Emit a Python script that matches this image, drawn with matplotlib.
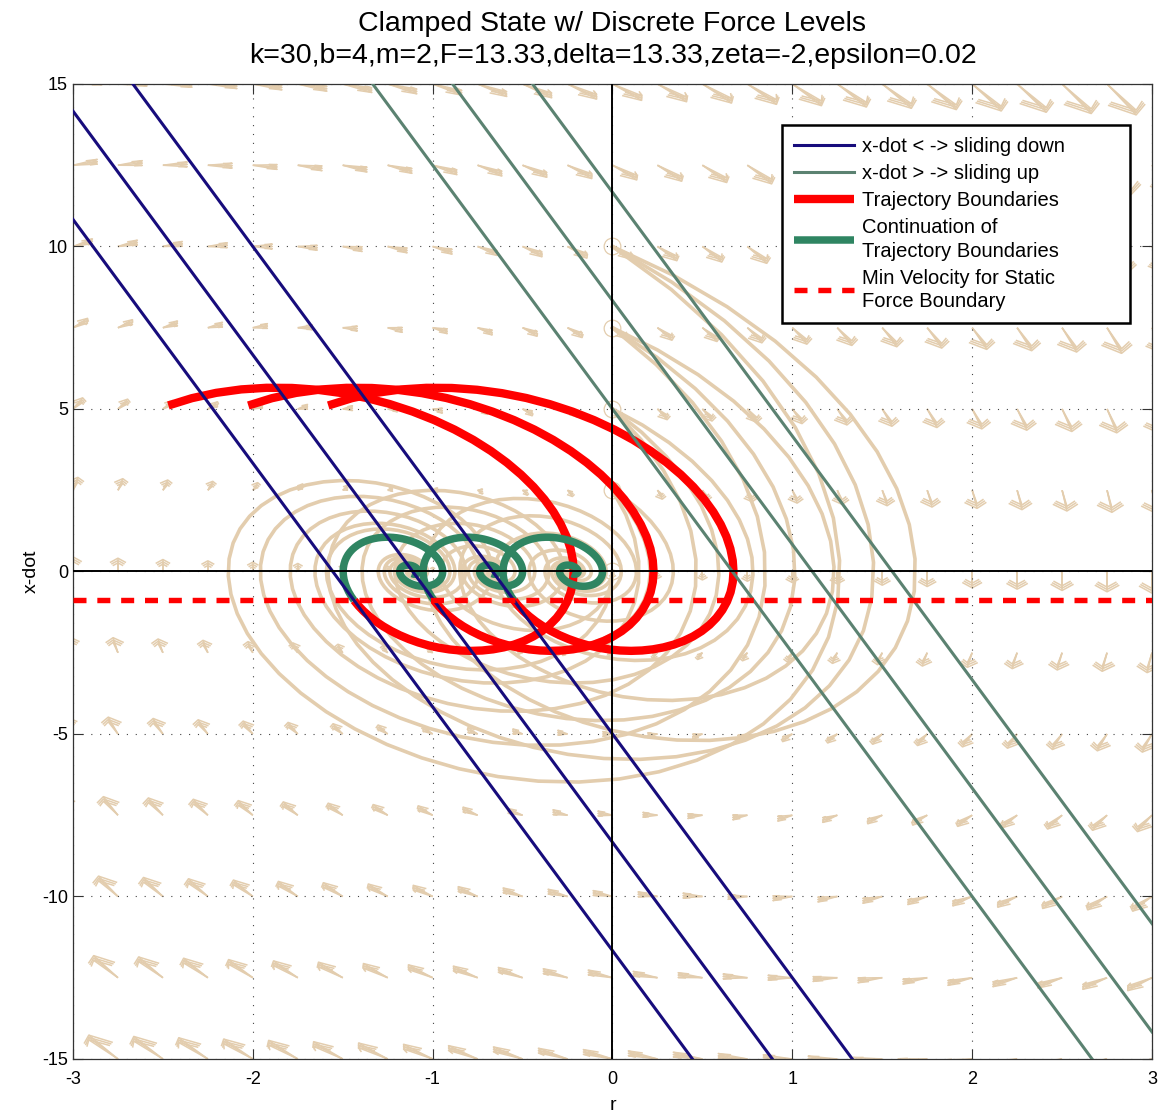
import matplotlib.pyplot as plt
import numpy as np
from matplotlib.collections import LineCollection

plt.rcParams['font.family'] = ['Liberation Sans', 'DejaVu Sans']
plt.rcParams['axes.unicode_minus'] = False

# model parameters (from the title)
K, B, M = 30.0, 4.0, 2.0
# discrete clamp force levels -> equilibria at F/K
F_LEVELS = [-6.667, -20.0, -33.333]

# boundary lines k*r + b*xdot = const, given as x-dot at r = 0
DOWN_INTERCEPTS = [-5.0, -8.333, -11.667]
UP_INTERCEPTS = [5.0, 8.333, 11.667]
V_MIN = -0.889  # min velocity for static force boundary

# tan trajectories start at r = 0 with these x-dot values
START_VEL = [0.0, 2.5, 5.0, 7.5, 10.0]
T_TAN = 8.0
T_BACK = 1.30   # red boundary, integrated backwards
T_FWD = 3.2     # green continuation, integrated forwards

# quiver grid
GRID_R = np.arange(-3.0, 3.001, 0.25)
GRID_V = np.arange(-15.0, 15.001, 2.5)
ARROW_SCALE = 0.0108

TAN = '#e3cdae'
BLUE = '#170c7c'
GREY_GREEN = '#5b8271'
GREEN = '#2f8562'
RED = '#ff0000'


def accel(r, v, f):
    return (-K * r - B * v + f) / M


def integrate(r0, v0, f, t_end, dt=0.02):
    n = int(round(abs(t_end) / dt))
    h = dt * np.sign(t_end)
    r, v = r0, v0
    rs, vs = [r], [v]
    for _ in range(n):
        k1r, k1v = v, accel(r, v, f)
        k2r, k2v = v + 0.5 * h * k1v, accel(r + 0.5 * h * k1r, v + 0.5 * h * k1v, f)
        k3r, k3v = v + 0.5 * h * k2v, accel(r + 0.5 * h * k2r, v + 0.5 * h * k2v, f)
        k4r, k4v = v + h * k3v, accel(r + h * k3r, v + h * k3v, f)
        r = r + h / 6 * (k1r + 2 * k2r + 2 * k3r + k4r)
        v = v + h / 6 * (k1v + 2 * k2v + 2 * k3v + k4v)
        rs.append(r)
        vs.append(v)
    return np.array(rs), np.array(vs)


def matlab_arrows(x, y, u, v, alpha=0.33, beta=0.33):
    # shaft + open head, head built in data units like MATLAB's quiver
    segs = []
    for xi, yi, ui, vi in zip(x, y, u, v):
        segs.append([(xi, yi), (xi + ui, yi + vi)])
        segs.append([(xi + ui - alpha * (ui + beta * vi), yi + vi - alpha * (vi - beta * ui)),
                     (xi + ui, yi + vi),
                     (xi + ui - alpha * (ui - beta * vi), yi + vi - alpha * (vi + beta * ui))])
    return segs


fig = plt.figure(figsize=(11.64, 11.14), dpi=100)
ax = fig.add_axes([0.0627, 0.0494, 0.9270, 0.8752])

# direction field, one set of arrows for each force level
rr, vv = np.meshgrid(GRID_R, GRID_V)
rr, vv = rr.ravel(), vv.ravel()
for f in F_LEVELS:
    segs = matlab_arrows(rr, vv, ARROW_SCALE * vv, ARROW_SCALE * accel(rr, vv, f))
    ax.add_collection(LineCollection(segs, colors=TAN, linewidths=1.1, zorder=1))

# trajectories from r = 0
for v0 in START_VEL:
    for f in F_LEVELS:
        r_t, v_t = integrate(0.0, v0, f, T_TAN, dt=0.035)
        ax.plot(r_t, v_t, color=TAN, lw=2.6, zorder=2)
    ax.plot(0, v0, 'o', ms=12, mfc='none', mec=TAN, mew=0.9, zorder=2)

# trajectory boundaries through the crossing of each sliding-down line with V_MIN
for f, c in zip(F_LEVELS, DOWN_INTERCEPTS):
    r_j = (c - V_MIN) * B / K
    r_b, v_b = integrate(r_j, V_MIN, f, -T_BACK, dt=0.025)
    ax.plot(r_b, v_b, color=RED, lw=6.0, solid_capstyle='butt', zorder=3,
            label='Trajectory Boundaries' if f == F_LEVELS[0] else None)
    r_c, v_c = integrate(r_j, V_MIN, f, T_FWD)
    ax.plot(r_c, v_c, color=GREEN, lw=5.4, solid_capstyle='butt', zorder=4,
            label='Continuation of\nTrajectory Boundaries' if f == F_LEVELS[0] else None)

# sliding lines
r_line = np.array([-3.0, 3.0])
for i, c in enumerate(DOWN_INTERCEPTS):
    ax.plot(r_line, -K / B * r_line + c, color=BLUE, lw=2.2, zorder=5,
            label='x-dot < -> sliding down' if i == 0 else None)
for i, c in enumerate(UP_INTERCEPTS):
    ax.plot(r_line, -K / B * r_line + c, color=GREY_GREEN, lw=2.2, zorder=5,
            label='x-dot > -> sliding up' if i == 0 else None)

ax.plot(r_line, [V_MIN, V_MIN], color=RED, lw=3.9, dashes=(2.4, 2.0), zorder=6,
        label='Min Velocity for Static\nForce Boundary')

ax.axhline(0, color='k', lw=1.4, zorder=7)
ax.axvline(0, color='k', lw=1.4, zorder=7)

ax.set_xlim(-3, 3)
ax.set_ylim(-15, 15)
ax.set_xticks(np.arange(-3, 4, 1))
ax.set_yticks(np.arange(-15, 16, 5))
ax.grid(True, color='#444444', lw=0.8, linestyle=(0, (1, 7)))
ax.tick_params(direction='in', length=7, width=0.8, top=True, right=True,
               labelsize=13, color='#333333')
ax.tick_params(axis='x', pad=9)
for s in ax.spines.values():
    s.set_linewidth(0.9)
    s.set_color('#333333')

ax.set_xlabel('r', fontsize=14, labelpad=6)
ax.set_ylabel('x-dot', fontsize=14, labelpad=2)
ax.set_title('Clamped State w/ Discrete Force Levels\n'
             'k=30,b=4,m=2,F=13.33,delta=13.33,zeta=-2,epsilon=0.02',
             fontsize=20.5, pad=15, linespacing=1.3)

handles, labels = ax.get_legend_handles_labels()
order = ['x-dot < -> sliding down', 'x-dot > -> sliding up', 'Trajectory Boundaries',
         'Continuation of\nTrajectory Boundaries', 'Min Velocity for Static\nForce Boundary']
hmap = dict(zip(labels, handles))
leg = ax.legend([hmap[o] for o in order], order, loc='upper left',
                bbox_to_anchor=(0.657, 0.75, 0.3225, 0.208), mode='expand',
                borderaxespad=0, fontsize=14.5, handlelength=3.0, handletextpad=0.4,
                borderpad=0.6, labelspacing=0.4, fancybox=False, framealpha=1)
for t in leg.get_texts():
    t.set_linespacing(1.3)
leg.get_frame().set_edgecolor('k')
leg.get_frame().set_linewidth(1.8)
leg.set_zorder(10)

fig.savefig('out.png', dpi=100)
